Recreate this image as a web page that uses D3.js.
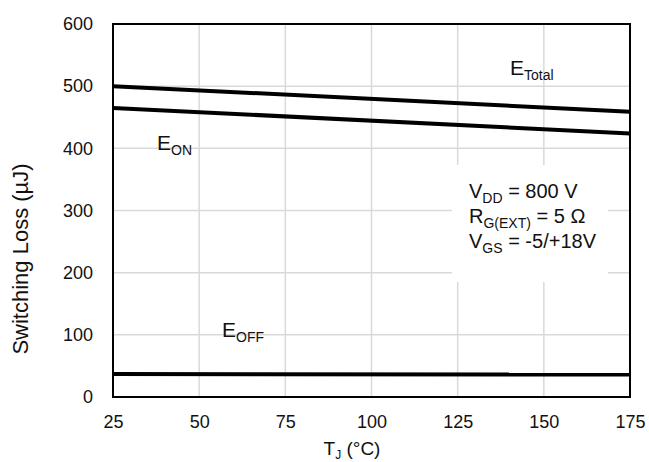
<!DOCTYPE html>
<html><head><meta charset="utf-8">
<script src="https://cdn.jsdelivr.net/npm/d3@7"></script>
<style>
body{margin:0;background:#fff;}
text{font-family:"Liberation Sans",Arial,sans-serif;fill:#111;}
</style></head>
<body><svg id="c" width="649" height="462"></svg>
<script>
const temps = [25, 175];
const eTotal = [500, 459];
const eOn = [465, 424];
const eOff = [37, 36];
const xTicks = [25, 50, 75, 100, 125, 150, 175];
const yTicks = [0, 100, 200, 300, 400, 500, 600];

const svg = d3.select("#c");
const L = 113, R = 630, T = 24, B = 397;
const x = d3.scaleLinear().domain([25, 175]).range([L, R]);
const y = d3.scaleLinear().domain([0, 600]).range([B, T]);

// grid
svg.append("g").selectAll("line").data(xTicks).join("line")
  .attr("x1", d => x(d)).attr("x2", d => x(d)).attr("y1", T).attr("y2", B)
  .attr("stroke", "#d9d9d9").attr("stroke-width", 1.5);
svg.append("g").selectAll("line").data(yTicks).join("line")
  .attr("y1", d => y(d)).attr("y2", d => y(d)).attr("x1", L).attr("x2", R)
  .attr("stroke", "#d9d9d9").attr("stroke-width", 1.5);

// annotation white box
svg.append("rect").attr("x", 452).attr("y", 165).attr("width", 156).attr("height", 117).attr("fill", "#fff");

// axes (labels only)
const xAxis = svg.append("g").attr("transform", `translate(0,${B})`)
  .call(d3.axisBottom(x).tickValues(xTicks).tickSize(0).tickPadding(18));
xAxis.select(".domain").remove();
xAxis.selectAll("text").attr("font-size", 18).attr("font-family", "Liberation Sans, Arial, sans-serif").attr("fill", "#111");

const yAxis = svg.append("g").attr("transform", `translate(${L},0)`)
  .call(d3.axisLeft(y).tickValues(yTicks).tickSize(0).tickPadding(20));
yAxis.select(".domain").remove();
yAxis.selectAll("text").attr("font-size", 18).attr("font-family", "Liberation Sans, Arial, sans-serif").attr("fill", "#111");

// frame
svg.append("rect").attr("x", L).attr("y", T).attr("width", R - L).attr("height", B - T)
  .attr("fill", "none").attr("stroke", "#000").attr("stroke-width", 2);

// data lines
const line = d3.line().x((d, i) => x(temps[i])).y(d => y(d));
[eTotal, eOn, eOff].forEach(s => {
  svg.append("path").datum(s).attr("d", line).attr("fill", "none")
    .attr("stroke", "#000").attr("stroke-width", 4);
});

// series labels
function lab(px, py, main, sub, fs, sfs) {
  const t = svg.append("text").attr("x", px).attr("y", py).attr("font-size", fs);
  t.append("tspan").text(main);
  t.append("tspan").attr("font-size", sfs).attr("dy", 5).text(sub);
  return t;
}
lab(510, 75, "E", "Total", 21, 14);
lab(157, 150, "E", "ON", 21, 14);
lab(222, 337, "E", "OFF", 21, 14);

// conditions
function cond(py, main, sub, rest) {
  const t = svg.append("text").attr("x", 469).attr("y", py).attr("font-size", 20);
  t.append("tspan").text(main);
  t.append("tspan").attr("font-size", 14).attr("dy", 5).text(sub);
  t.append("tspan").attr("dy", -5).text(rest);
}
cond(198, "V", "DD", " = 800 V");
cond(223, "R", "G(EXT)", " = 5 Ω");
cond(248, "V", "GS", " = -5/+18V");

// axis titles
const xt = svg.append("text").attr("x", 352).attr("y", 455).attr("text-anchor", "middle").attr("font-size", 19);
xt.append("tspan").text("T");
xt.append("tspan").attr("font-size", 12).attr("dy", 4).text("J");
xt.append("tspan").attr("dy", -4).text(" (°C)");

svg.append("text").attr("transform", "translate(28,259) rotate(-90)")
  .attr("text-anchor", "middle").attr("font-size", 22).text("Switching Loss (µJ)");
</script></body></html>
